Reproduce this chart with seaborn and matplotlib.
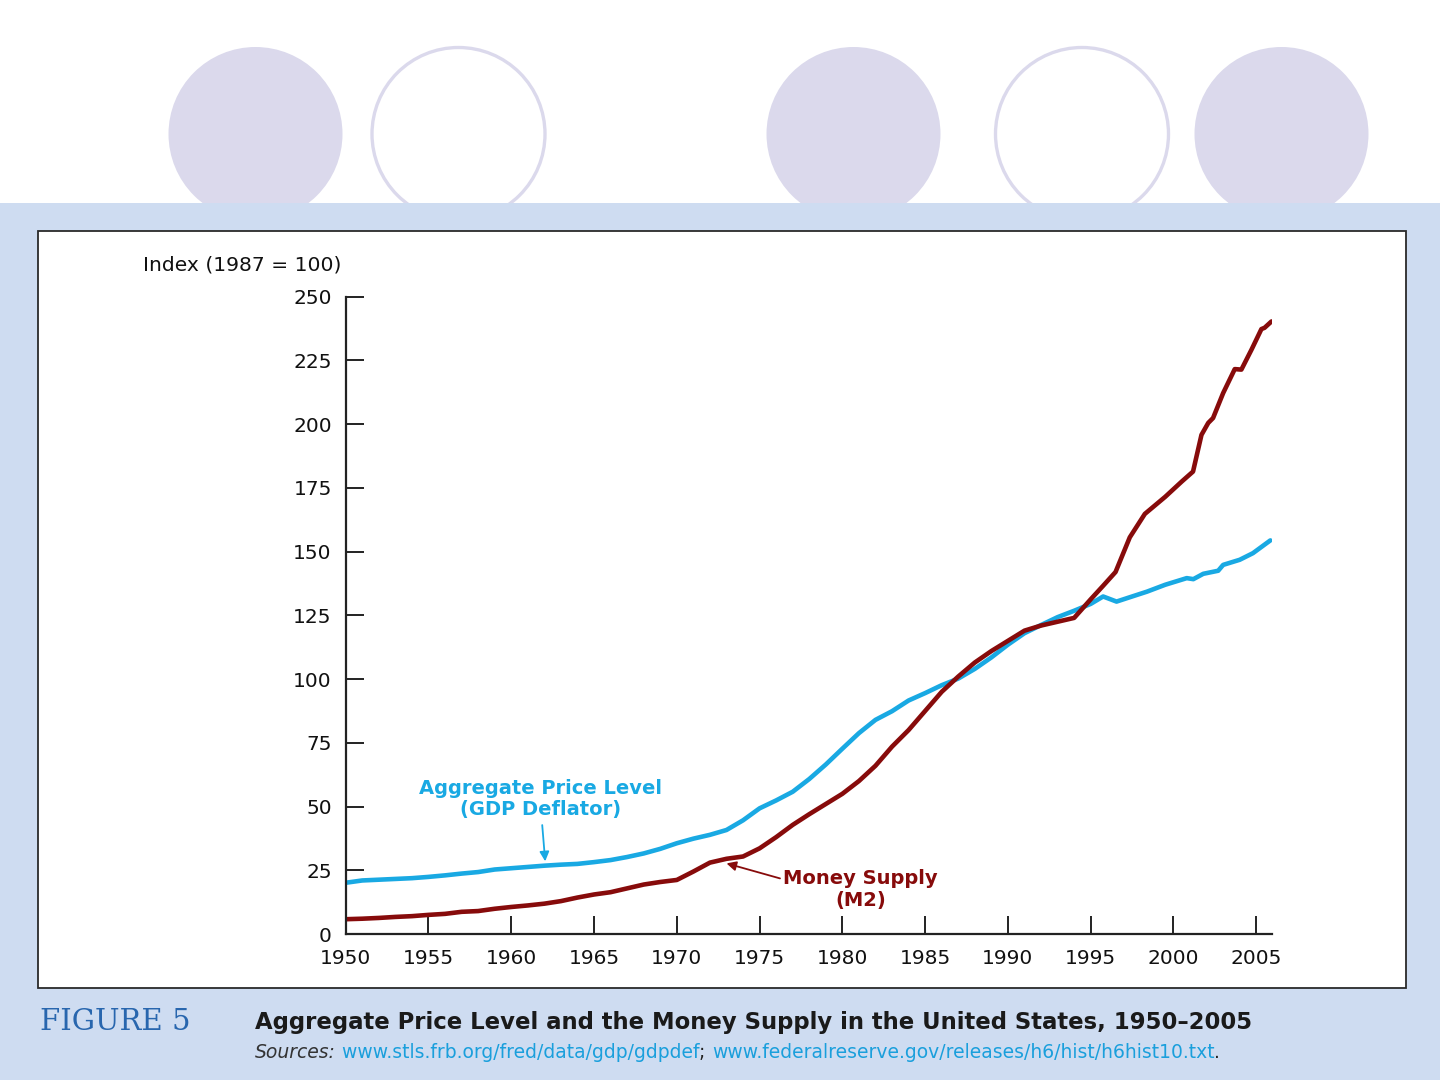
import matplotlib
matplotlib.use("Agg")
import matplotlib.pyplot as plt
from matplotlib.patches import Circle, Rectangle
import seaborn as sns
import pandas as pd

# ---------------- data ----------------
gdp_years = [1950, 1951, 1952, 1953, 1954, 1955, 1956, 1957, 1958, 1959,
             1960, 1961, 1962, 1963, 1964, 1965, 1966, 1967, 1968, 1969,
             1970, 1971, 1972, 1973, 1974, 1975, 1976, 1977, 1978, 1979,
             1980, 1981, 1982, 1983, 1984, 1985, 1986, 1987, 1988, 1989,
             1990, 1991, 1992, 1993, 1994, 1995, 1995.75, 1996.56, 1997.5,
             1998.4, 1999.5, 2000.8, 2001.2, 2001.8, 2002.7, 2003.0, 2004.0,
             2004.8, 2005.85]
gdp_deflator = [20.1, 21.0, 21.3, 21.6, 21.9, 22.4, 23.0, 23.7, 24.3, 25.3,
                25.8, 26.3, 26.8, 27.2, 27.5, 28.2, 29.0, 30.2, 31.6, 33.4,
                35.6, 37.4, 38.9, 40.8, 44.6, 49.3, 52.4, 55.8, 60.8, 66.5,
                72.7, 78.8, 84.0, 87.4, 91.6, 94.5, 97.6, 100.2, 104.0, 108.5,
                113.5, 118.0, 121.2, 124.3, 126.8, 129.5, 132.4, 130.4, 132.4,
                134.3, 137.0, 139.6, 139.2, 141.3, 142.5, 144.8, 146.8,
                149.4, 154.4]

m2_years = [1950, 1951, 1952, 1953, 1954, 1955, 1956, 1957, 1958, 1959,
            1960, 1961, 1962, 1963, 1964, 1965, 1966, 1967, 1968, 1969,
            1970, 1971, 1972, 1973, 1974, 1975, 1976, 1977, 1978, 1979,
            1980, 1981, 1982, 1983, 1984, 1985, 1986, 1987, 1988, 1989,
            1990, 1991, 1992, 1993, 1994, 1995, 1995.75, 1996.5, 1997.36,
            1998.27, 1999.5, 2000.5, 2001.18, 2001.69, 2002.1, 2002.39,
            2003.0, 2003.7, 2004.1, 2004.71, 2005.31, 2005.5, 2005.92]
m2_supply = [5.8, 6.0, 6.3, 6.7, 7.0, 7.5, 7.9, 8.7, 9.0, 9.9,
             10.6, 11.2, 11.9, 12.9, 14.3, 15.5, 16.4, 17.9, 19.4, 20.4,
             21.2, 24.5, 28.0, 29.5, 30.4, 33.6, 38.0, 42.8, 47.0, 51.0,
             55.0, 60.0, 66.0, 73.5, 80.0, 87.5, 95.0, 101.0, 106.5, 111.0,
             115.0, 119.0, 121.0, 122.5, 124.0, 131.3, 136.6, 142.0, 155.6,
             164.8, 171.5, 177.5, 181.4, 195.8, 200.5, 202.4,
             212.2, 221.6, 221.4, 229.2, 237.3, 237.8, 240.3]

x_ticks = [1950, 1955, 1960, 1965, 1970, 1975, 1980, 1985, 1990, 1995, 2000, 2005]
y_ticks = [0, 25, 50, 75, 100, 125, 150, 175, 200, 225, 250]

# ---------------- style ----------------
sns.set_style("white")
plt.rcParams['font.family'] = ['DejaVu Sans']

BLUE = "#19a9e3"
RED = "#870b0b"
LAV = "#dbd9ec"
BAND = "#cedcf1"
TXT = "#111111"

fig = plt.figure(figsize=(14.4, 10.8), dpi=100)
fig.patch.set_facecolor("white")

# background decoration axes in pixel coordinates
bg = fig.add_axes([0, 0, 1, 1])
bg.set_xlim(0, 1440)
bg.set_ylim(1080, 0)
bg.axis("off")

for cx, filled in [(255.5, True), (458.5, False), (853.5, True), (1082.0, False), (1281.5, True)]:
    if filled:
        bg.add_patch(Circle((cx, 134), 87, fc=LAV, ec="none", zorder=1))
    else:
        bg.add_patch(Circle((cx, 134), 86.5, fc="white", ec=LAV, lw=2.4, zorder=1))

bg.add_patch(Rectangle((0, 203), 1440, 877, fc=BAND, ec="none", zorder=2))
bg.add_patch(Rectangle((38, 231), 1368, 757, fc="white", ec="#2a2a2a", lw=1.3, zorder=3))

bg.text(40, 1022, "FIGURE 5", family="DejaVu Serif", fontsize=21, color="#2866ae",
        ha="left", va="center", zorder=5)
bg.text(255, 1023, "Aggregate Price Level and the Money Supply in the United States, 1950\u20132005",
        fontsize=16.4, fontweight="bold", color="#1a1a1a", ha="left", va="center", zorder=5)

t0 = bg.text(255, 1062, "Sources:", fontsize=13.5, style="italic", color="#333333",
             ha="left", va="bottom", zorder=5)
pieces = [(" www.stls.frb.org/fred/data/gdp/gdpdef", "#1a9fdc"),
          ("; ", "#222222"),
          ("www.federalreserve.gov/releases/h6/hist/h6hist10.txt", "#1a9fdc"),
          (".", "#222222")]
prev = t0
for s, c in pieces:
    prev = bg.annotate(s, xy=(1, 0), xycoords=prev, ha="left", va="bottom",
                       fontsize=13.5, color=c, zorder=5)

bg.text(143, 265, "Index (1987 = 100)", fontsize=14.6, color=TXT, ha="left", va="center", zorder=5)

# ---------------- main chart ----------------
ax = fig.add_axes([345.7 / 1440, (1080 - 934) / 1080, (1272 - 345.7) / 1440, (934 - 296.7) / 1080])
ax.set_facecolor("none")

df_gdp = pd.DataFrame({"year": gdp_years, "value": gdp_deflator})
df_m2 = pd.DataFrame({"year": m2_years, "value": m2_supply})
sns.lineplot(data=df_gdp, x="year", y="value", ax=ax, color=BLUE, lw=3.3, estimator=None)
sns.lineplot(data=df_m2, x="year", y="value", ax=ax, color=RED, lw=3.3, estimator=None)

ax.set_xlim(1950, 2005.95)
ax.set_ylim(0, 250)
ax.set_xticks(x_ticks)
ax.set_yticks(y_ticks)
ax.set_xlabel("")
ax.set_ylabel("")
for side in ["top", "right"]:
    ax.spines[side].set_visible(False)
for side in ["left", "bottom"]:
    ax.spines[side].set_linewidth(1.6)
    ax.spines[side].set_color("#222222")
ax.tick_params(axis="both", which="major", bottom=True, left=True, top=False, right=False,
               direction="in", length=13, width=1.4, colors="#222222",
               labelsize=14.5, labelcolor=TXT)
ax.tick_params(axis="x", pad=11)
ax.tick_params(axis="y", pad=10)
ax.grid(False)

ax.annotate("Aggregate Price Level\n(GDP Deflator)", xy=(1962.05, 28.5), xytext=(1961.74, 53.0),
            ha="center", va="center", color=BLUE, fontsize=14, fontweight="bold",
            linespacing=1.15,
            arrowprops=dict(arrowstyle="-|>", color=BLUE, lw=1.3, mutation_scale=14,
                            shrinkA=2, shrinkB=0))
ax.annotate("Money Supply\n(M2)", xy=(1973.0, 27.7), xytext=(1981.1, 17.5),
            ha="center", va="center", color=RED, fontsize=14, fontweight="bold",
            linespacing=1.15,
            arrowprops=dict(arrowstyle="-|>", color=RED, lw=1.3, mutation_scale=14,
                            shrinkA=0, shrinkB=0, relpos=(0.0, 0.75)))

fig.savefig("out.png", dpi=100)
